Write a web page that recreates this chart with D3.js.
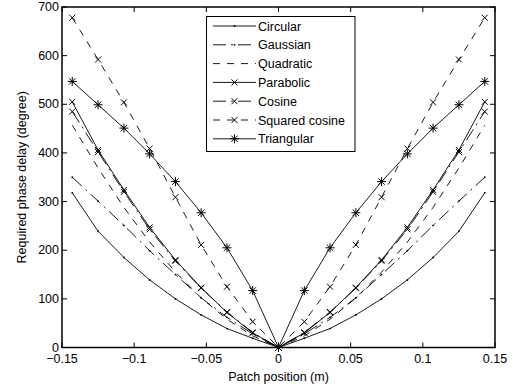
<!DOCTYPE html>
<html>
<head>
<meta charset="utf-8">
<script src="https://cdn.jsdelivr.net/npm/d3@7"></script>
<style>
	body { margin: 0; background: #fff; }
	text { font-family: "Liberation Sans", Arial, sans-serif; fill: #000; }
</style>
</head>
<body>
<script>
	var width = 523,
	    height = 387,
	    margin = {left: 62, right: 28, top: 7, bottom: 39.5},
	    fontSize = '12.5px';

	// patch positions (m)
	var patchPos = [-0.1429, -0.125, -0.1071, -0.0893, -0.0714, -0.0536, -0.0357, -0.0179, 0,
	                0.0179, 0.0357, 0.0536, 0.0714, 0.0893, 0.1071, 0.125, 0.1429];

	// required phase delay (degree) per profile
	var circular  = [318, 239, 185, 139, 100, 67, 39, 19, 0, 19, 39, 67, 100, 139, 185, 239, 318];
	var gaussian  = [350, 301, 251, 199, 150, 102, 62, 28, 0, 28, 62, 102, 150, 199, 251, 301, 350];
	var quadratic = [457, 369, 288, 217, 155, 102, 58, 24, 0, 24, 58, 102, 155, 217, 288, 369, 457];
	var parabolic = [505, 406, 324, 247, 180, 123, 72, 30, 0, 30, 72, 123, 180, 247, 324, 406, 505];
	var cosine    = [485, 402, 320, 243, 178, 122, 73, 31, 0, 31, 73, 122, 178, 243, 320, 402, 485];
	var sqCosine  = [678, 592, 504, 409, 309, 211, 125, 53, 0, 53, 125, 211, 309, 409, 504, 592, 678];
	var triangular= [547, 499, 451, 398, 341, 277, 205, 117, 0, 117, 205, 277, 341, 398, 451, 499, 547];

	var seriesNames = ['Circular', 'Gaussian', 'Quadratic', 'Parabolic', 'Cosine', 'Squared cosine', 'Triangular'];
	var xTicks = [-0.15, -0.1, -0.05, 0, 0.05, 0.1, 0.15];
	var yTicks = [0, 100, 200, 300, 400, 500, 600, 700];

	var DASH = '7,7', DASHDOT = '13,5,2,5';
	var styles = [
		{dash: null, marker: 'dot'},
		{dash: DASHDOT, marker: 'dot'},
		{dash: DASH, marker: null},
		{dash: null, marker: 'x'},
		{dash: DASHDOT, marker: 'x'},
		{dash: DASH, marker: 'x'},
		{dash: null, marker: 'star'}
	];
	var allValues = [circular, gaussian, quadratic, parabolic, cosine, sqCosine, triangular];

	var series = seriesNames.map(function (name, i) {
		return {
			name: name,
			style: styles[i],
			points: patchPos.map(function (p, j) { return [p, allValues[i][j]]; })
		};
	});

	var svg = d3.select('body').append('svg')
		.attr('width', width)
		.attr('height', height);

	var x = d3.scaleLinear().domain([-0.15, 0.15]).range([margin.left, width - margin.right]);
	var y = d3.scaleLinear().domain([0, 700]).range([height - margin.bottom, margin.top]);

	var line = d3.line()
		.x(function (d) { return x(d[0]); })
		.y(function (d) { return y(d[1]); });

	function markerPath(type, cx, cy) {
		var s = 3, t = 4.5, d = 3.2;
		if (type === 'x') {
			return 'M' + (cx - s) + ',' + (cy - s) + 'L' + (cx + s) + ',' + (cy + s) +
			       'M' + (cx - s) + ',' + (cy + s) + 'L' + (cx + s) + ',' + (cy - s);
		}
		if (type === 'star') {
			return 'M' + (cx - t) + ',' + cy + 'L' + (cx + t) + ',' + cy +
			       'M' + cx + ',' + (cy - t) + 'L' + cx + ',' + (cy + t) +
			       'M' + (cx - d) + ',' + (cy - d) + 'L' + (cx + d) + ',' + (cy + d) +
			       'M' + (cx - d) + ',' + (cy + d) + 'L' + (cx + d) + ',' + (cy - d);
		}
		return null;
	}

	function drawMarker(g, type, cx, cy) {
		if (!type) return;
		if (type === 'dot') {
			g.append('circle').attr('cx', cx).attr('cy', cy).attr('r', 0.9).attr('fill', '#000');
			return;
		}
		g.append('path')
			.attr('d', markerPath(type, cx, cy))
			.attr('stroke', '#000')
			.attr('stroke-width', 1)
			.attr('fill', 'none');
	}

	// curves
	var plot = svg.append('g');
	series.forEach(function (s) {
		plot.append('path')
			.attr('d', line(s.points))
			.attr('fill', 'none')
			.attr('stroke', '#000')
			.attr('stroke-width', 0.9)
			.attr('stroke-dasharray', s.style.dash);
		s.points.forEach(function (p) {
			drawMarker(plot, s.style.marker, x(p[0]), y(p[1]));
		});
	});

	// axes box with inward ticks
	var x0 = x.range()[0], x1 = x.range()[1], y0 = y.range()[0], y1 = y.range()[1];
	var tickLen = 5;
	var axes = svg.append('g');

	axes.append('rect')
		.attr('x', x0).attr('y', y1)
		.attr('width', x1 - x0).attr('height', y0 - y1)
		.attr('fill', 'none').attr('stroke', '#000').attr('stroke-width', 1.5);

	xTicks.forEach(function (t) {
		axes.append('line').attr('x1', x(t)).attr('x2', x(t)).attr('y1', y0).attr('y2', y0 - tickLen)
			.attr('stroke', '#000');
		axes.append('line').attr('x1', x(t)).attr('x2', x(t)).attr('y1', y1).attr('y2', y1 + tickLen)
			.attr('stroke', '#000');
		axes.append('text')
			.attr('x', x(t)).attr('y', y0 + 15.5)
			.attr('text-anchor', 'middle')
			.attr('font-size', fontSize)
			.text(t === 0 ? '0' : d3.format('')(t));
	});

	yTicks.forEach(function (t) {
		axes.append('line').attr('x1', x0).attr('x2', x0 + tickLen).attr('y1', y(t)).attr('y2', y(t))
			.attr('stroke', '#000');
		axes.append('line').attr('x1', x1).attr('x2', x1 - tickLen).attr('y1', y(t)).attr('y2', y(t))
			.attr('stroke', '#000');
		axes.append('text')
			.attr('x', x0 - 3).attr('y', y(t) + 4)
			.attr('text-anchor', 'end')
			.attr('font-size', fontSize)
			.text(t);
	});

	// axis labels
	svg.append('text')
		.attr('x', (x0 + x1) / 2).attr('y', 381)
		.attr('text-anchor', 'middle')
		.attr('font-size', fontSize)
		.text('Patch position (m)');

	svg.append('text')
		.attr('transform', 'translate(26,' + ((y0 + y1) / 2) + ') rotate(-90)')
		.attr('text-anchor', 'middle')
		.attr('font-size', fontSize)
		.text('Required phase delay (degree)');

	// legend
	var leg = svg.append('g');
	leg.append('rect')
		.attr('x', 206.5).attr('y', 16.5)
		.attr('width', 148.5).attr('height', 135)
		.attr('fill', '#fff').attr('stroke', '#000').attr('stroke-width', 1);

	series.forEach(function (s, i) {
		var ly = 26 + i * 18.8;
		leg.append('line')
			.attr('x1', 213).attr('x2', 256)
			.attr('y1', ly).attr('y2', ly)
			.attr('stroke', '#000').attr('stroke-width', 0.9)
			.attr('stroke-dasharray', s.style.dash);
		drawMarker(leg, s.style.marker, 234.5, ly);
		leg.append('text')
			.attr('x', 258).attr('y', ly + 4.5)
			.attr('font-size', fontSize)
			.text(s.name);
	});
</script>
</body>
</html>
